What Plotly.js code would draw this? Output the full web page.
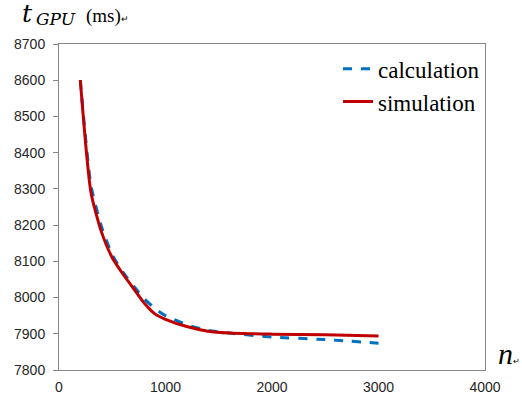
<!DOCTYPE html>
<html>
<head>
<meta charset="utf-8">
<script src="https://cdn.plot.ly/plotly-3.0.1.min.js"></script>
<style>body{margin:0;background:#fff}#chart{width:522px;height:400px}</style>
</head>
<body>
<div id="chart"></div>
<script>
const nValues = [200, 300, 400, 500, 600, 700, 800, 900, 1000, 1200, 1400, 1600, 2000, 2500, 3000];
const calculation = [8600, 8310, 8195, 8118, 8070, 8032, 7997, 7970, 7950, 7925, 7909, 7902, 7891, 7884, 7874];
const simulation = [8600, 8290, 8180, 8110, 8065, 8025, 7985, 7955, 7940, 7920, 7907, 7902, 7899, 7897, 7894];
const xTicks = [0, 1000, 2000, 3000, 4000];
const yTicks = [7800, 7900, 8000, 8100, 8200, 8300, 8400, 8500, 8600, 8700];

const traces = [
  {x: nValues, y: calculation, name: 'calculation', mode: 'lines',
   line: {color: '#0070C0', width: 3, dash: 'dash', shape: 'spline', smoothing: 0.6}},
  {x: nValues, y: simulation, name: 'simulation', mode: 'lines',
   line: {color: '#C00000', width: 3, shape: 'spline', smoothing: 0.6}}
];

const axisCommon = {
  showline: true, linecolor: '#868686', linewidth: 1, mirror: true,
  showgrid: false, zeroline: false,
  tickfont: {family: 'Liberation Sans, Arial, sans-serif', size: 14, color: '#262626'}
};

const layout = {
  width: 522, height: 400,
  margin: {l: 59, r: 37, t: 44, b: 30},
  paper_bgcolor: '#fff', plot_bgcolor: '#fff',
  showlegend: true,
  legend: {x: 0.655, y: 0.99, xanchor: 'left', yanchor: 'top', bgcolor: 'rgba(0,0,0,0)',
           font: {family: 'Liberation Serif, Times New Roman, serif', size: 23, color: '#000'},
           tracegroupgap: 0, itemwidth: 30},
  xaxis: Object.assign({}, axisCommon, {range: [0, 4000], tickvals: xTicks, ticktext: xTicks.map(String),
           ticks: '', ticklen: 0, ticklabelstandoff: 4}),
  yaxis: Object.assign({}, axisCommon, {range: [7800, 8700], tickvals: yTicks, ticktext: yTicks.map(String),
           ticks: 'outside', ticklen: 5, tickcolor: '#868686', ticklabelstandoff: 5}),
  annotations: [
    {xref: 'paper', yref: 'paper', x: -0.092, y: 1.095, xanchor: 'left', yanchor: 'middle', showarrow: false,
     text: '<i>t</i>', font: {family: 'DejaVu Serif, serif', size: 25, color: '#000'}},
    {xref: 'paper', yref: 'paper', x: -0.058, y: 1.078, xanchor: 'left', yanchor: 'middle', showarrow: false,
     text: '<i>GPU</i>', font: {family: 'DejaVu Serif, serif', size: 17, color: '#000'}},
    {xref: 'paper', yref: 'paper', x: 0.058, y: 1.086, xanchor: 'left', yanchor: 'middle', showarrow: false,
     text: '(ms)<span style="font-size:9px">↵</span>', font: {family: 'Liberation Serif, serif', size: 19, color: '#000'}},
    {xref: 'paper', yref: 'paper', x: 1.025, y: 0.05, xanchor: 'left', yanchor: 'middle', showarrow: false,
     text: '<i>n</i><span style="font-size:8px">↵</span>', font: {family: 'Liberation Serif, serif', size: 30, color: '#000'}}
  ]
};

Plotly.newPlot('chart', traces, layout, {displayModeBar: false, staticPlot: true});
</script>
</body>
</html>
